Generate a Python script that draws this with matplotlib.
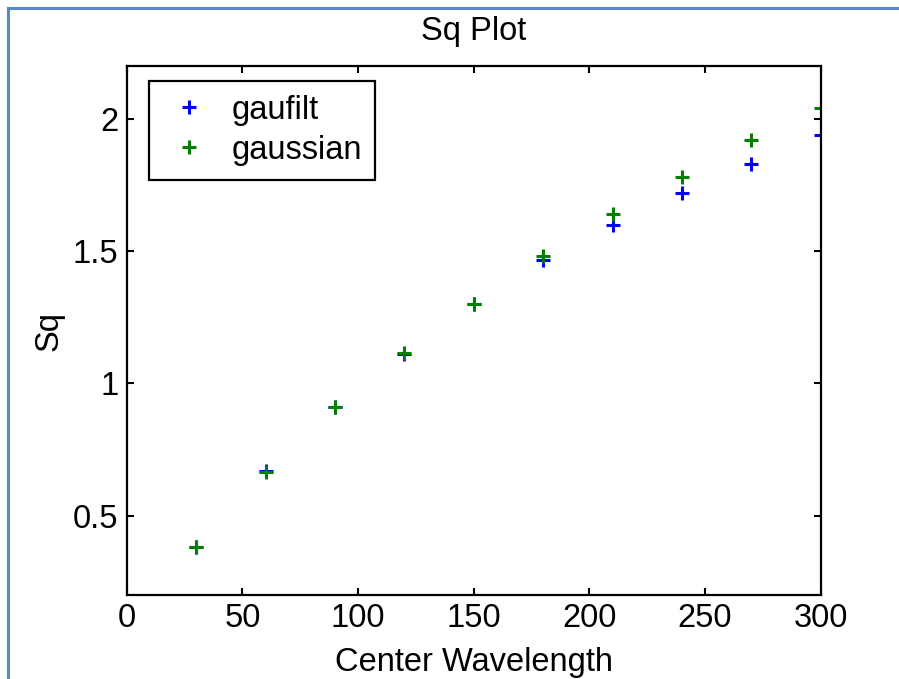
import numpy as np
import matplotlib
matplotlib.use('Agg')
from matplotlib import pyplot as plt
from matplotlib.lines import Line2D

plt.rcParams['font.family'] = ['Liberation Sans', 'DejaVu Sans']

# center wavelengths and Sq values for both filters
wavelength = [30, 60, 90, 120, 150, 180, 210, 240, 270, 300]
sq_gaufilt = [0.38, 0.67, 0.91, 1.11, 1.30, 1.465, 1.60, 1.72, 1.83, 1.94]
sq_gaussian = [0.38, 0.665, 0.91, 1.115, 1.30, 1.48, 1.64, 1.78, 1.92, 2.04]

x_ticks = [0, 50, 100, 150, 200, 250, 300]
y_ticks = [0.5, 1, 1.5, 2]

fs = 23.5

fig = plt.figure(figsize=(8.99, 6.79), dpi=100)
fig.patch.set_facecolor('white')

# window frame lines (top and left)
fig.add_artist(Line2D([8/899, 1], [1 - 8/679, 1 - 8/679], color='#5a87c6', lw=2.2))
fig.add_artist(Line2D([8/899, 8/899], [0, 1 - 8/679], color='#5a87c6', lw=2.2))

ax = fig.add_axes([0.141, 0.1237, 0.772, 0.7791])

ax.plot(wavelength, sq_gaufilt, '+', color='#0000ff', ms=10.5, mew=2.2, label='gaufilt')
ax.plot(wavelength, sq_gaussian, '+', color='#008000', ms=10.5, mew=2.2, label='gaussian')

ax.set_xlim(0, 300)
ax.set_ylim(0.2, 2.2)
ax.set_xticks(x_ticks)
ax.set_yticks(y_ticks)
ax.set_yticklabels(['0.5', '1', '1.5', '2'])

for s in ax.spines.values():
    s.set_linewidth(1.6)
ax.tick_params(direction='in', length=5, width=1.5, top=True, right=True,
               labelsize=fs, pad=6)
ax.tick_params(axis='x', pad=6)

ax.set_title('Sq Plot', fontsize=fs, pad=19)
ax.set_xlabel('Center Wavelength', fontsize=fs, labelpad=9)
ax.set_ylabel('Sq', fontsize=fs, labelpad=6)

leg = ax.legend(loc='upper left', bbox_to_anchor=(149/899, 1 - 81/679),
                bbox_transform=fig.transFigure, borderaxespad=0,
                fontsize=fs, fancybox=False, edgecolor='black', framealpha=1,
                handlelength=1.6, handletextpad=0.5, labelspacing=0.28,
                borderpad=0.42)
leg.get_frame().set_linewidth(1.6)

fig.savefig('out.png', dpi=100)
